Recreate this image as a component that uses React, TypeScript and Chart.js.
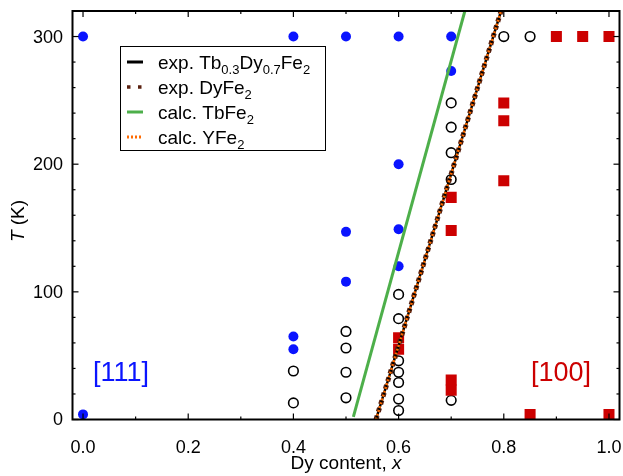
import { useEffect, useRef } from 'react';
import { Chart, registerables } from 'chart.js';

Chart.register(...registerables);

const FONT = '"Liberation Sans", Arial, Helvetica, sans-serif';

// Axis ranges and ticks
const xRange = [-0.02, 1.02];
const yRange = [0, 320];
const xMajor = [0, 0.2, 0.4, 0.6, 0.8, 1.0];
const xMinor = [0.1, 0.3, 0.5, 0.7, 0.9];
const yMajor = [0, 100, 200, 300];
const yMinor = [20, 40, 60, 80, 120, 140, 160, 180, 220, 240, 260, 280];
const xTickLabels = ['0.0', '0.2', '0.4', '0.6', '0.8', '1.0'];
const yTickLabels = ['0', '100', '200', '300'];

// [111] easy axis (blue filled circles)
const blueX = [0, 0, 0.4, 0.4, 0.4, 0.5, 0.5, 0.5, 0.6, 0.6, 0.6, 0.6, 0.7, 0.7];
const blueT = [300, 4, 300, 65, 55, 300, 147, 108, 300, 200, 149, 120, 300, 273];

// Intermediate / canted (open circles)
const openX = [0.4, 0.4, 0.5, 0.5, 0.5, 0.5, 0.6, 0.6, 0.6, 0.6, 0.6, 0.6, 0.6, 0.7, 0.7, 0.7, 0.7, 0.7, 0.8, 0.85];
const openT = [38, 13, 69, 56, 37, 17, 98, 79, 46, 37, 29, 16, 7, 248, 229, 209, 188, 15, 300, 300];

// [100] easy axis (red squares)
const redX = [0.6, 0.6, 0.7, 0.7, 0.7, 0.7, 0.8, 0.8, 0.8, 0.85, 0.9, 0.95, 1.0, 1.0];
const redT = [64, 55, 174, 148, 31, 23, 248, 234, 187, 4, 300, 300, 300, 4];

// Spin-reorientation lines
const expTbDyX = [0.557, 0.8];
const expTbDyT = [0, 327];
const expDyX = [0.557, 0.8];
const expDyT = [0, 327];
const calcTbX = [0.514, 0.726];
const calcTbT = [2, 320];
const calcYX = [0.557, 0.8];
const calcYT = [0, 327];

const BLUE = '#0a14ff';
const RED = '#cc0000';
const GREEN = '#4daf4a';
const ORANGE = '#ff6a00';
const BROWN = '#5a200f';

const pts = (xs: number[], ys: number[]) => xs.map((x, i) => ({ x, y: ys[i] }));

type Part = { t: string; sub?: boolean; it?: boolean };

function drawRich(ctx: CanvasRenderingContext2D, x: number, y: number, parts: Part[], size: number, color: string) {
  let cx = x;
  ctx.fillStyle = color;
  ctx.textBaseline = 'alphabetic';
  ctx.textAlign = 'left';
  for (const p of parts) {
    const s = p.sub ? Math.round(size * 0.7) : size;
    ctx.font = `${p.it ? 'italic ' : ''}${s}px ${FONT}`;
    ctx.fillText(p.t, cx, p.sub ? y + size * 0.28 : y);
    cx += ctx.measureText(p.t).width;
  }
  return cx - x;
}

function measureRich(ctx: CanvasRenderingContext2D, parts: Part[], size: number) {
  let w = 0;
  for (const p of parts) {
    const s = p.sub ? Math.round(size * 0.7) : size;
    ctx.font = `${p.it ? 'italic ' : ''}${s}px ${FONT}`;
    w += ctx.measureText(p.t).width;
  }
  return w;
}

const decorPlugin = {
  id: 'decor',
  afterDraw(chart: any) {
    const ctx: CanvasRenderingContext2D = chart.ctx;
    const { left, right, top, bottom } = chart.chartArea;
    const xs = chart.scales.x;
    const ys = chart.scales.y;
    ctx.save();
    ctx.strokeStyle = '#000';
    // inward ticks on all four sides
    ctx.lineWidth = 1.2;
    const tick = (x1: number, y1: number, x2: number, y2: number) => {
      ctx.beginPath();
      ctx.moveTo(x1, y1);
      ctx.lineTo(x2, y2);
      ctx.stroke();
    };
    for (const v of xMajor) {
      const px = xs.getPixelForValue(v);
      tick(px, bottom, px, bottom - 6);
      tick(px, top, px, top + 6);
    }
    for (const v of xMinor) {
      const px = xs.getPixelForValue(v);
      tick(px, bottom, px, bottom - 3);
      tick(px, top, px, top + 3);
    }
    for (const v of yMajor) {
      const py = ys.getPixelForValue(v);
      tick(left, py, left + 6, py);
      tick(right, py, right - 6, py);
    }
    for (const v of yMinor) {
      const py = ys.getPixelForValue(v);
      tick(left, py, left + 3, py);
      tick(right, py, right - 3, py);
    }
    // frame
    ctx.lineWidth = 2;
    ctx.strokeRect(left, top, right - left, bottom - top);

    // tick labels
    ctx.fillStyle = '#000';
    ctx.font = `18px ${FONT}`;
    ctx.textAlign = 'center';
    ctx.textBaseline = 'alphabetic';
    xMajor.forEach((v, i) => {
      ctx.fillText(xTickLabels[i], xs.getPixelForValue(v), 453);
    });
    ctx.textAlign = 'right';
    ctx.textBaseline = 'middle';
    yMajor.forEach((v, i) => {
      ctx.fillText(yTickLabels[i], 63, ys.getPixelForValue(v) + 1);
    });

    // axis titles
    const xt: Part[] = [{ t: 'Dy content, ' }, { t: 'x', it: true }];
    const xw = measureRich(ctx, xt, 19);
    drawRich(ctx, (left + right) / 2 - xw / 2, 469, xt, 19, '#000');

    const yt: Part[] = [{ t: 'T', it: true }, { t: ' (K)' }];
    const yw = measureRich(ctx, yt, 19);
    ctx.save();
    ctx.translate(24, 221);
    ctx.rotate(-Math.PI / 2);
    drawRich(ctx, -yw / 2, 0, yt, 19, '#000');
    ctx.restore();

    // region annotations
    ctx.font = `27px ${FONT}`;
    ctx.textAlign = 'center';
    ctx.textBaseline = 'alphabetic';
    ctx.fillStyle = BLUE;
    ctx.fillText('[111]', 121, 381);
    ctx.fillStyle = RED;
    ctx.fillText('[100]', 561, 381);

    // legend
    const bx = 120, by = 46, bw = 205, bh = 104;
    ctx.fillStyle = '#fff';
    ctx.fillRect(bx, by, bw, bh);
    ctx.lineWidth = 1;
    ctx.strokeStyle = '#000';
    ctx.strokeRect(bx + 0.5, by + 0.5, bw, bh);
    const entries: { color: string; width: number; dash: number[]; parts: Part[] }[] = [
      { color: '#000', width: 3, dash: [], parts: [{ t: 'exp. Tb' }, { t: '0.3', sub: true }, { t: 'Dy' }, { t: '0.7', sub: true }, { t: 'Fe' }, { t: '2', sub: true }] },
      { color: BROWN, width: 3.5, dash: [3.5, 7.5], parts: [{ t: 'exp. DyFe' }, { t: '2', sub: true }] },
      { color: GREEN, width: 3, dash: [], parts: [{ t: 'calc. TbFe' }, { t: '2', sub: true }] },
      { color: ORANGE, width: 3, dash: [2, 2], parts: [{ t: 'calc. YFe' }, { t: '2', sub: true }] },
    ];
    entries.forEach((e, i) => {
      const cy = 62 + i * 25;
      ctx.save();
      ctx.strokeStyle = e.color;
      ctx.lineWidth = e.width;
      ctx.setLineDash(e.dash);
      ctx.lineCap = 'butt';
      ctx.beginPath();
      ctx.moveTo(127, cy);
      ctx.lineTo(143, cy);
      ctx.stroke();
      ctx.restore();
      drawRich(ctx, 158, cy + 7, e.parts, 19, '#000');
    });
    ctx.restore();
  },
};

export default function App() {
  const ref = useRef<HTMLCanvasElement | null>(null);
  useEffect(() => {
    if (!ref.current) return;
    const lineDs = (label: string, xs: number[], ys: number[], color: string, width: number, dash: number[]) => ({
      type: 'line' as const,
      label,
      data: pts(xs, ys),
      borderColor: color,
      borderWidth: width,
      borderDash: dash,
      pointRadius: 0,
      fill: false,
      showLine: true,
      tension: 0,
    });
    const chart = new Chart(ref.current, {
      type: 'scatter',
      data: {
        datasets: [
          lineDs('calc. YFe2', calcYX, calcYT, ORANGE, 2.5, [2, 2]),
          lineDs('exp. Tb0.3Dy0.7Fe2', expTbDyX, expTbDyT, '#000', 2.5, []),
          lineDs('exp. DyFe2', expDyX, expDyT, BROWN, 5, [4, 4]),
          lineDs('calc. TbFe2', calcTbX, calcTbT, GREEN, 3, []),
          { label: '[100]', data: pts(redX, redT), pointStyle: 'rect', pointRadius: 7.8, backgroundColor: RED, borderColor: RED, borderWidth: 0 },
          { label: 'open', data: pts(openX, openT), pointStyle: 'circle', pointRadius: 4.8, backgroundColor: 'rgba(0,0,0,0)', borderColor: '#000', borderWidth: 1.6 },
          { label: '[111]', data: pts(blueX, blueT), pointStyle: 'circle', pointRadius: 5, backgroundColor: BLUE, borderColor: BLUE, borderWidth: 0 },
        ],
      },
      options: {
        animation: false,
        responsive: true,
        maintainAspectRatio: false,
        layout: { autoPadding: false, padding: { left: 0, right: 3.5, top: 11, bottom: 0 } },
        plugins: { legend: { display: false }, tooltip: { enabled: false } },
        scales: {
          x: { type: 'linear', min: xRange[0], max: xRange[1], grid: { display: false, drawTicks: false }, border: { display: false }, ticks: { display: false }, afterFit: (s: any) => { s.height = 56.5; } },
          y: { type: 'linear', min: yRange[0], max: yRange[1], grid: { display: false, drawTicks: false }, border: { display: false }, ticks: { display: false }, afterFit: (s: any) => { s.width = 72.5; } },
        },
      },
      plugins: [decorPlugin],
    } as any);
    return () => chart.destroy();
  }, []);
  return (
    <div style={{ position: 'absolute', left: 0, top: 0, width: 623, height: 476 }}>
      <canvas ref={ref} />
    </div>
  );
}
